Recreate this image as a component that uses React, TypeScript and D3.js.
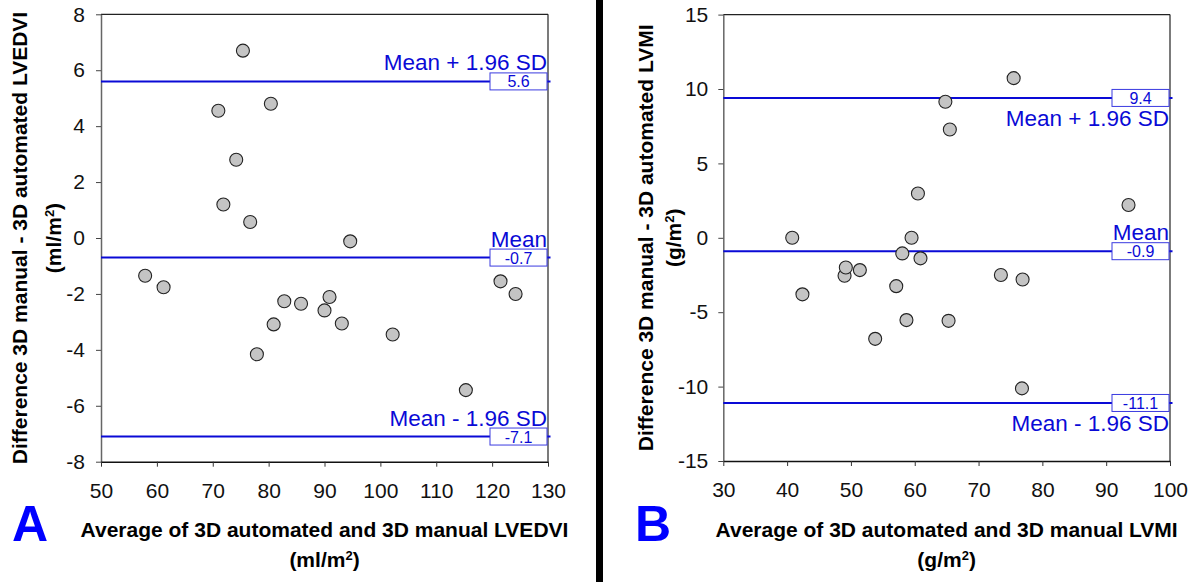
import * as d3 from 'd3';
import React, { useRef, useEffect } from 'react';

// panel A : LVEDVI
const lvedviAvg = [57.9, 61.2, 71.0, 71.9, 74.2, 75.4, 76.7, 77.9, 80.4, 80.9, 82.8, 85.8, 90.0, 90.9, 93.1, 94.6, 102.2, 115.3, 121.5, 124.2];
const lvedviDiff = [-1.35, -1.76, 4.55, 1.2, 2.8, 6.7, 0.57, -4.16, 4.8, -3.09, -2.26, -2.35, -2.59, -2.11, -3.06, -0.12, -3.45, -5.44, -1.55, -2.0];
const lvedviLimits = [5.6, -0.7, -7.1];
const lvedviXTicks = [50, 60, 70, 80, 90, 100, 110, 120, 130];
const lvedviYTicks = [-8, -6, -4, -2, 0, 2, 4, 6, 8];

// panel B : LVMI
const lvmiAvg = [40.8, 42.4, 49.0, 49.2, 51.4, 53.8, 57.1, 58.05, 58.7, 59.5, 60.5, 60.9, 64.8, 65.3, 65.5, 73.5, 75.5, 76.8, 76.9, 93.5];
const lvmiDiff = [0.0, -3.8, -2.55, -2.0, -2.17, -6.79, -3.25, -1.05, -5.53, 0.0, 2.98, -1.38, 9.14, -5.58, 7.28, -2.5, 10.73, -10.12, -2.8, 2.2];
const lvmiLimits = [9.4, -0.9, -11.1];
const lvmiXTicks = [30, 40, 50, 60, 70, 80, 90, 100];
const lvmiYTicks = [-15, -10, -5, 0, 5, 10, 15];

const limitNames = ['Mean + 1.96 SD', 'Mean', 'Mean - 1.96 SD'];

const FONT = '"Liberation Sans", Arial, sans-serif';
const BLUE = '#0a0ad6';

function drawPanel(svg, p) {
  const x = d3.scaleLinear().domain(p.xDomain).range([p.left, p.right]);
  const y = d3.scaleLinear().domain(p.yDomain).range([p.bottom, p.top]);
  const g = svg.append('g').style('font-family', FONT);
  const fmt = d => String(d); // plain hyphen minus like the original

  // frame top / right
  g.append('line').attr('x1', p.left).attr('x2', p.right).attr('y1', p.top).attr('y2', p.top)
    .attr('stroke', '#222').attr('stroke-width', 1.2);
  g.append('line').attr('x1', p.right).attr('x2', p.right).attr('y1', p.top).attr('y2', p.bottom)
    .attr('stroke', '#222').attr('stroke-width', 1.2);

  const ya = g.append('g')
    .attr('transform', `translate(${p.left},0)`)
    .call(d3.axisLeft(y).tickValues(p.yTicks).tickFormat(fmt).tickSize(5).tickPadding(p.yPad).tickSizeOuter(0));
  ya.select('.domain').attr('stroke', '#666').attr('stroke-width', 1.5);
  ya.selectAll('.tick line').attr('stroke', '#444');
  ya.selectAll('text').style('font-size', '21px').style('font-family', FONT).attr('fill', '#111');

  const xa = g.append('g')
    .attr('transform', `translate(0,${p.bottom})`)
    .call(d3.axisBottom(x).tickValues(p.xTicks).tickFormat(fmt).tickSize(5).tickPadding(16).tickSizeOuter(0));
  xa.select('.domain').attr('stroke', '#111').attr('stroke-width', 1.5);
  xa.selectAll('.tick line').attr('stroke', '#333');
  xa.selectAll('text').style('font-size', '21px').style('font-family', FONT).attr('fill', '#111');

  // limit lines
  p.limits.forEach((v, i) => {
    const ly = y(v);
    g.append('line').attr('x1', p.left).attr('x2', p.right + 2.5).attr('y1', ly).attr('y2', ly)
      .attr('stroke', BLUE).attr('stroke-width', 2);
    g.append('rect').attr('x', p.right - 58).attr('y', ly - 8.5).attr('width', 57).attr('height', 17)
      .attr('fill', 'white').attr('stroke', '#3a3ae0').attr('stroke-width', 1);
    g.append('text').attr('x', p.right - 29.5).attr('y', ly + 6).attr('text-anchor', 'middle')
      .attr('fill', BLUE).style('font-size', '16px').text(v.toFixed(1));
    const below = p.labelBelow[i];
    g.append('text').attr('x', p.right - 1).attr('y', below ? ly + 28 : ly - 11)
      .attr('text-anchor', 'end').attr('fill', BLUE).style('font-size', '22.5px').text(limitNames[i]);
  });

  // points
  g.append('g').selectAll('circle')
    .data(p.xs.map((v, i) => [v, p.ys[i]]))
    .join('circle')
    .attr('cx', d => x(d[0]))
    .attr('cy', d => y(d[1]))
    .attr('r', 6.5)
    .attr('fill', '#c4c4c4')
    .attr('stroke', '#222')
    .attr('stroke-width', 1.1);

  // axis titles
  const cx = (p.left + p.right) / 2;
  const cy = (p.top + p.bottom) / 2;
  const yt = g.append('text').attr('transform', `rotate(-90)`).attr('text-anchor', 'middle')
    .style('font-size', '21px').style('font-weight', 'bold').attr('fill', '#000');
  yt.append('tspan').attr('x', -cy).attr('y', p.yTitleX[0]).text(p.yTitle);
  yt.append('tspan').attr('x', -cy).attr('y', p.yTitleX[1]).text(`(${p.unit}`)
    .append('tspan').attr('baseline-shift', 'super').style('font-size', '13px').text('2');
  yt.append('tspan').text(')');

  const xt = g.append('text').attr('text-anchor', 'middle')
    .style('font-size', '21px').style('font-weight', 'bold').attr('fill', '#000');
  xt.append('tspan').attr('x', cx).attr('y', 537).text(p.xTitle);
  xt.append('tspan').attr('x', cx).attr('y', 567).text(`(${p.unit}`);
  xt.append('tspan').attr('baseline-shift', 'super').style('font-size', '13px').text('2');
  xt.append('tspan').attr('baseline-shift', '0').text(')');

  g.append('text').attr('x', p.letterX).attr('y', 541).attr('fill', '#0000ff')
    .style('font-size', '50px').style('font-weight', 'bold').text(p.letter);
}

function App() {
  const ref = useRef(null);

  useEffect(() => {
    const svg = d3.select(ref.current);
    svg.selectAll('*').remove();

    svg.append('rect').attr('x', 596).attr('y', 0).attr('width', 7).attr('height', 582).attr('fill', '#000');

    drawPanel(svg, {
      xDomain: [50, 130], yDomain: [-8, 8],
      left: 101, right: 548, top: 14.3, bottom: 461.7,
      xTicks: lvedviXTicks, yTicks: lvedviYTicks, yPad: 11,
      xs: lvedviAvg, ys: lvedviDiff, limits: lvedviLimits,
      labelBelow: [false, false, false],
      yTitle: 'Difference 3D manual - 3D automated LVEDVI', yTitleX: [27, 61],
      xTitle: 'Average of 3D automated and 3D manual LVEDVI', unit: 'ml/m',
      letter: 'A', letterX: 12,
    });

    drawPanel(svg, {
      xDomain: [30, 100], yDomain: [-15, 15],
      left: 723.3, right: 1170, top: 14.6, bottom: 461,
      xTicks: lvmiXTicks, yTicks: lvmiYTicks, yPad: 10,
      xs: lvmiAvg, ys: lvmiDiff, limits: lvmiLimits,
      labelBelow: [true, false, true],
      yTitle: 'Difference 3D manual - 3D automated LVMI', yTitleX: [653, 681],
      xTitle: 'Average of 3D automated and 3D manual LVMI', unit: 'g/m',
      letter: 'B', letterX: 635,
    });
  }, []);

  return (
    <svg ref={ref} width={1200} height={582}
      style={{ position: 'absolute', left: 0, top: 0, background: 'white', display: 'block' }} />
  );
}

export default App;
